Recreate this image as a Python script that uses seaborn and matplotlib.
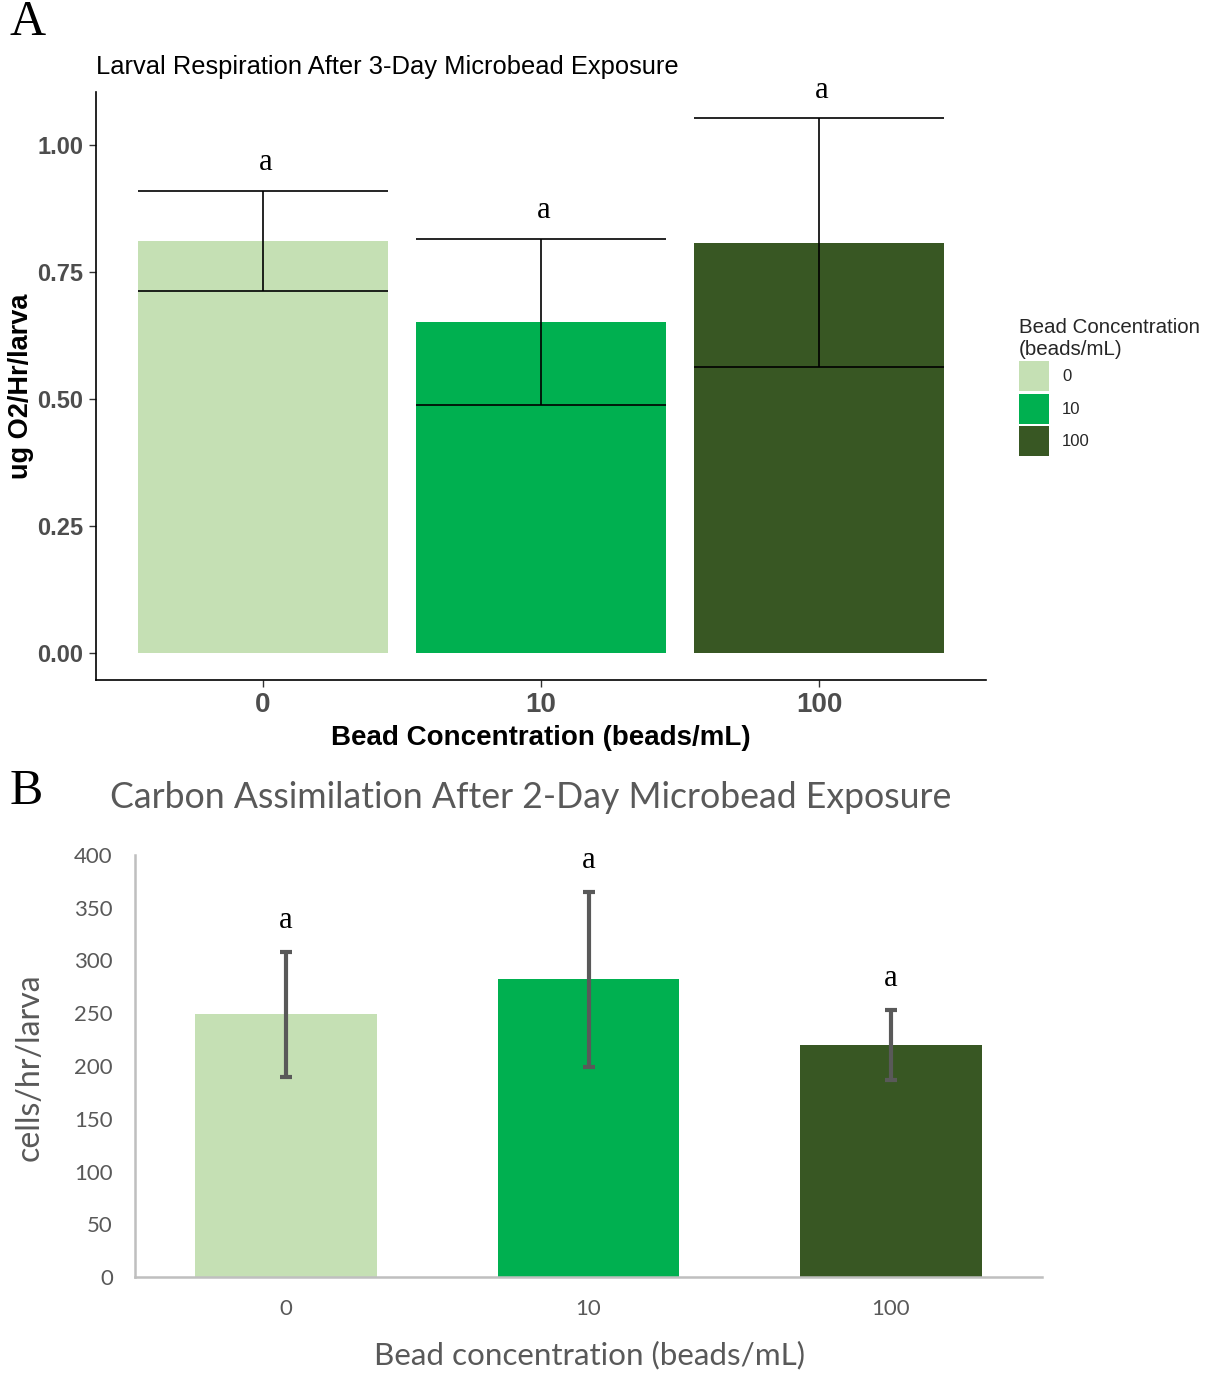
import matplotlib
matplotlib.use("Agg")
import matplotlib.pyplot as plt
import pandas as pd
import seaborn as sns
from matplotlib.patches import Patch

# Treatment groups (bead concentration, beads/mL)
concentrations = ["0", "10", "100"]

# Panel A: larval respiration (ug O2/Hr/larva)
resp_mean = [0.812, 0.652, 0.808]
resp_err = [0.098, 0.164, 0.245]
resp_letters = ["a", "a", "a"]
resp_ticks = [0.00, 0.25, 0.50, 0.75, 1.00]

# Panel B: carbon assimilation (cells/hr/larva)
carbon_mean = [249, 282, 220]
carbon_err = [59, 83, 33]
carbon_letters = ["a", "a", "a"]
carbon_ticks = [0, 50, 100, 150, 200, 250, 300, 350, 400]

bar_colors = ["#C5E0B4", "#00B050", "#385723"]

sns.set_theme(style="white")
plt.rcParams["font.family"] = ["Liberation Sans", "DejaVu Sans"]

W, H = 1213, 1374
fig = plt.figure(figsize=(W / 100, H / 100), dpi=100)
fig.patch.set_facecolor("white")

SERIF = ["Liberation Serif", "DejaVu Serif"]
EXCEL = ["Lato", "DejaVu Sans"]


def fx(px):
    return px / W


def fy(py):
    return 1 - py / H


# ---------------- Panel A ----------------
axA = fig.add_axes([fx(96), fy(680), fx(890), 588 / H])
df_a = pd.DataFrame({"conc": concentrations, "resp": resp_mean})
sns.barplot(data=df_a, x="conc", y="resp", hue="conc", palette=bar_colors,
            width=0.9, saturation=1, errorbar=None, legend=False,
            linewidth=0, ax=axA)
xs = list(range(len(concentrations)))
lo = [m - e for m, e in zip(resp_mean, resp_err)]
hi = [m + e for m, e in zip(resp_mean, resp_err)]
axA.vlines(xs, lo, hi, color="black", lw=1.2, zorder=3)
axA.hlines(lo, [x - 0.45 for x in xs], [x + 0.45 for x in xs], color="black", lw=1.2, zorder=3)
axA.hlines(hi, [x - 0.45 for x in xs], [x + 0.45 for x in xs], color="black", lw=1.2, zorder=3)
for x, top, letter in zip(xs, hi, resp_letters):
    axA.annotate(letter, (x, top), xytext=(2, 10), textcoords="offset points",
                 ha="center", va="bottom", fontsize=22, family=SERIF, color="black")

axA.set_xlim(-0.6, 2.6)
axA.set_ylim(-0.0527, 1.105)
axA.set_yticks(resp_ticks)
axA.set_yticklabels([f"{t:.2f}" for t in resp_ticks])
axA.set_xlabel("")
axA.set_ylabel("")
for side in ["top", "right"]:
    axA.spines[side].set_visible(False)
for side in ["left", "bottom"]:
    axA.spines[side].set_color("black")
    axA.spines[side].set_linewidth(1.2)
axA.tick_params(axis="both", direction="out", length=5, width=1, color="#333333",
                labelcolor="#4D4D4D", left=True, bottom=True, pad=4)
axA.tick_params(axis="y", labelsize=17)
axA.tick_params(axis="x", labelsize=20)
for lab in axA.get_xticklabels() + axA.get_yticklabels():
    lab.set_fontweight("bold")

fig.text(fx(96), fy(67), "Larval Respiration After 3-Day Microbead Exposure",
         ha="left", va="center", fontsize=18.4, color="black")
fig.text(fx(21), fy(386), "ug O2/Hr/larva", rotation=90, ha="center", va="center",
         fontsize=19.5, fontweight="bold", color="black")
fig.text(fx(541), fy(738), "Bead Concentration (beads/mL)", ha="center", va="center",
         fontsize=20, fontweight="bold", color="black")
fig.text(fx(10), fy(23), "A", ha="left", va="center", fontsize=36, family=SERIF, color="black")

handles = [Patch(facecolor=c, edgecolor="none") for c in bar_colors]
fig.legend(handles, concentrations, title="Bead Concentration\n(beads/mL)",
           loc="upper left", bbox_to_anchor=(fx(1007), fy(306)), frameon=False,
           fontsize=12, title_fontsize=14.8, handlelength=1.8, handleheight=2.4,
           labelspacing=0.15, handletextpad=0.8, alignment="left", borderpad=0.2)

# ---------------- Panel B ----------------
axB = fig.add_axes([fx(135), fy(1277), fx(907), 422 / H])
df_b = pd.DataFrame({"conc": concentrations, "carbon": carbon_mean})
sns.barplot(data=df_b, x="conc", y="carbon", hue="conc", palette=bar_colors,
            width=0.6, saturation=1, errorbar=None, legend=False,
            linewidth=0, ax=axB)
axB.errorbar(xs, carbon_mean, yerr=carbon_err, fmt="none", ecolor="#595959",
             elinewidth=3, capsize=4.5, capthick=3, zorder=3)
for x, m, e, letter in zip(xs, carbon_mean, carbon_err, carbon_letters):
    axB.annotate(letter, (x, m + e), xytext=(0, 12), textcoords="offset points",
                 ha="center", va="bottom", fontsize=22, family=SERIF, color="black")

axB.set_xlim(-0.5, 2.5)
axB.set_ylim(0, 400)
axB.set_yticks(carbon_ticks)
axB.set_xlabel("")
axB.set_ylabel("")
for side in ["top", "right"]:
    axB.spines[side].set_visible(False)
for side in ["left", "bottom"]:
    axB.spines[side].set_color("#BFBFBF")
    axB.spines[side].set_linewidth(1.8)
axB.tick_params(axis="both", length=0, labelcolor="#595959", labelsize=16, pad=16)
for lab in axB.get_xticklabels() + axB.get_yticklabels():
    lab.set_family(EXCEL)

fig.text(fx(531), fy(798), "Carbon Assimilation After 2-Day Microbead Exposure",
         ha="center", va="center", fontsize=25.7, color="#595959", family=EXCEL)
fig.text(fx(30), fy(1067), "cells/hr/larva", rotation=90, ha="center", va="center",
         fontsize=23, color="#595959", family=EXCEL)
fig.text(fx(590), fy(1355), "Bead concentration (beads/mL)", ha="center", va="center",
         fontsize=22.6, color="#595959", family=EXCEL)
fig.text(fx(10), fy(792), "B", ha="left", va="center", fontsize=36, family=SERIF, color="black")

fig.savefig("out.png", dpi=100, facecolor="white")
